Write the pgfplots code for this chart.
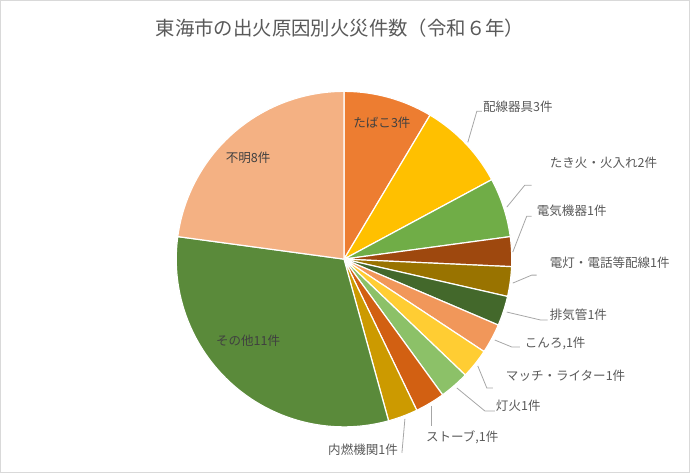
\documentclass[border=0pt]{standalone}
\usepackage{pgfplots}
\pgfplotsset{compat=1.18}
\usepackage{fontspec}
\setmainfont{Noto Sans CJK JP}
\definecolor{c1}{HTML}{ED7D31}
\definecolor{c2}{HTML}{FFC000}
\definecolor{c3}{HTML}{70AD47}
\definecolor{c4}{HTML}{9E480E}
\definecolor{c5}{HTML}{997300}
\definecolor{c6}{HTML}{43682B}
\definecolor{c7}{HTML}{F1975A}
\definecolor{c8}{HTML}{FFCD33}
\definecolor{c9}{HTML}{8CC168}
\definecolor{c10}{HTML}{D26012}
\definecolor{c11}{HTML}{CC9A00}
\definecolor{c12}{HTML}{5A8A3A}
\definecolor{c13}{HTML}{F4B183}
\definecolor{txt}{HTML}{595959}
\definecolor{intxt}{HTML}{404040}
\definecolor{lead}{HTML}{A6A6A6}
\newcommand{\lbfont}{\fontsize{12.6}{14}\selectfont}
% #1 = cumulative count before the slice, #2 = count of the slice, #3 = colour
\newcommand{\pieslice}[3]{%
  \pgfmathsetmacro{\angA}{90-360*(#1+#2)/35}%
  \pgfmathsetmacro{\angB}{90-360*(#1)/35}%
  \addplot[fill=#3, draw=white, line width=1.2pt, line join=round, domain=\angA:\angB, samples=80, variable=\t]
    ({344+168*cos(\t)},{259-168*sin(\t)}) -- (axis cs:344,259) -- cycle;
}
\begin{document}
\begin{tikzpicture}
\begin{axis}[x=1bp, y=1bp, xmin=0, xmax=690, ymin=0, ymax=473, y dir=reverse,
  axis line style={draw=black!15, line width=1pt}, xtick=\empty, ytick=\empty, clip=false]
\pieslice{0}{3}{c1}
\pieslice{3}{3}{c2}
\pieslice{6}{2}{c3}
\pieslice{8}{1}{c4}
\pieslice{9}{1}{c5}
\pieslice{10}{1}{c6}
\pieslice{11}{1}{c7}
\pieslice{12}{1}{c8}
\pieslice{13}{1}{c9}
\pieslice{14}{1}{c10}
\pieslice{15}{1}{c11}
\pieslice{16}{11}{c12}
\pieslice{27}{8}{c13}
% leader lines
\addplot[draw=lead, line width=0.8pt] coordinates {(468,142) (477,111) (482,111)};
\addplot[draw=lead, line width=0.8pt] coordinates {(507,207) (525,185) (532,185)};
\addplot[draw=lead, line width=0.8pt] coordinates {(513,252) (527,216) (532,216)};
\addplot[draw=lead, line width=0.8pt] coordinates {(513,283) (532,275) (537,275)};
\addplot[draw=lead, line width=0.8pt] coordinates {(507,312) (541,320) (548,320)};
\addplot[draw=lead, line width=0.8pt] coordinates {(495,340) (512,347) (520,347)};
\addplot[draw=lead, line width=0.8pt] coordinates {(478,366) (487,388) (493,388)};
\addplot[draw=lead, line width=0.8pt] coordinates {(457,388) (485,411) (495,411)};
\addplot[draw=lead, line width=0.8pt] coordinates {(432,406) (432,426)};
\addplot[draw=lead, line width=0.8pt] coordinates {(405,419) (402,453)};
% title
\node[text=txt, font=\fontsize{19.5}{23}\selectfont] at (axis cs:340,28) {東海市の出火原因別火災件数（令和６年）};
% inside labels
\node[text=intxt, font=\lbfont] at (axis cs:382,122) {たばこ3件};
\node[text=intxt, font=\lbfont] at (axis cs:248,158) {不明8件};
\node[text=intxt, font=\lbfont] at (axis cs:248,341) {その他11件};
% outside labels
\node[text=txt, font=\lbfont, anchor=west, inner sep=0pt] at (axis cs:483,106) {配線器具3件};
\node[text=txt, font=\lbfont, anchor=west, inner sep=0pt] at (axis cs:550,163) {たき火・火入れ2件};
\node[text=txt, font=\lbfont, anchor=west, inner sep=0pt] at (axis cs:537,211) {電気機器1件};
\node[text=txt, font=\lbfont, anchor=west, inner sep=0pt] at (axis cs:550,263) {電灯・電話等配線1件};
\node[text=txt, font=\lbfont, anchor=west, inner sep=0pt] at (axis cs:550,315) {排気管1件};
\node[text=txt, font=\lbfont, anchor=west, inner sep=0pt] at (axis cs:525,343) {こんろ,1件};
\node[text=txt, font=\lbfont, anchor=west, inner sep=0pt] at (axis cs:506,376) {マッチ・ライター1件};
\node[text=txt, font=\lbfont, anchor=west, inner sep=0pt] at (axis cs:496,406) {灯火1件};
\node[text=txt, font=\lbfont, anchor=west, inner sep=0pt] at (axis cs:426,437) {ストーブ,1件};
\node[text=txt, font=\lbfont, anchor=west, inner sep=0pt] at (axis cs:328,450) {内燃機関1件};
\end{axis}
\end{tikzpicture}
\end{document}
